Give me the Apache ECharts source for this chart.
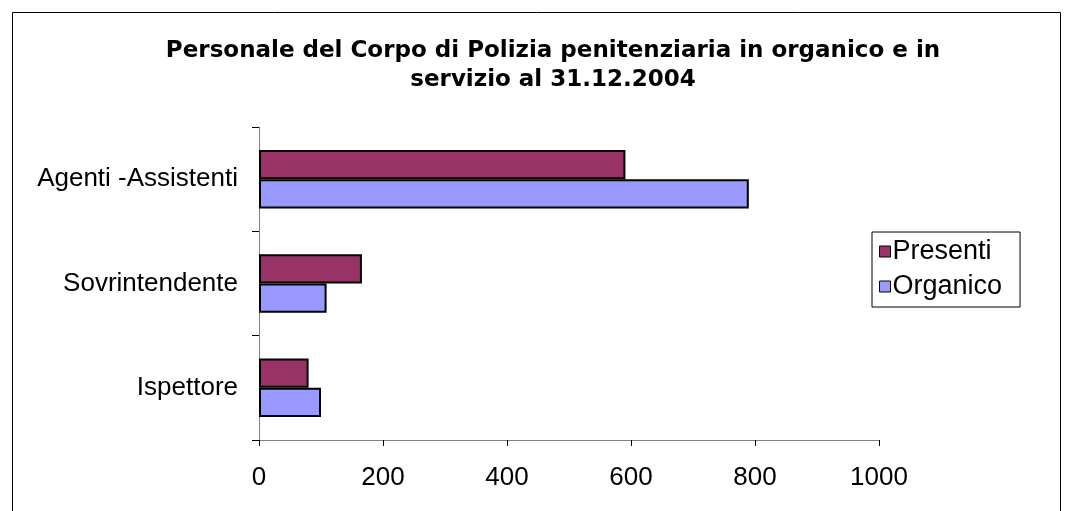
<!DOCTYPE html>
<html><head><meta charset="utf-8">
<script src="https://cdn.jsdelivr.net/npm/echarts@6/dist/echarts.min.js"></script>
<style>html,body{margin:0;padding:0;background:#fff}#c{width:1072px;height:511px}</style>
</head><body><div id="c"></div>
<script>
const categories = ['Ispettore', 'Sovrintendente', 'Agenti -Assistenti'];
const presenti = [80, 166, 591];
const organico = [100, 109, 790];
const xTicks = [0, 200, 400, 600, 800, 1000];
const titleText = 'Personale del Corpo di Polizia penitenziaria in organico e in\nservizio al 31.12.2004';

const chart = echarts.init(document.getElementById('c'), null, {renderer: 'canvas'});
const font = 'Liberation Sans, Arial, sans-serif';
chart.setOption({
  animation: false,
  backgroundColor: '#fff',
  graphic: [{
    type: 'rect', shape: {x: 12.5, y: 12.5, width: 1048, height: 510},
    style: {fill: 'none', stroke: '#000', lineWidth: 1}, silent: true
  }],
  title: {
    text: titleText, left: 548, textAlign: 'center', top: 32,
    textStyle: {fontFamily: 'DejaVu Sans, sans-serif', fontSize: 23, fontWeight: 'bold', color: '#000', lineHeight: 29}
  },
  legend: {
    orient: 'vertical', left: 872, top: 232, width: 150,
    padding: [6, 18, 7, 7], itemGap: 8,
    borderColor: '#000', borderWidth: 1,
    icon: 'rect', itemWidth: 11, itemHeight: 11,
    itemStyle: {borderColor: '#000', borderWidth: 1},
    textStyle: {fontFamily: font, fontSize: 27, color: '#000', padding: [0, 0, 0, -3]},
    data: ['Presenti', 'Organico']
  },
  grid: {left: 259, top: 127, width: 620, height: 313, containLabel: false},
  xAxis: {
    type: 'value', min: 0, max: 1000, interval: 200,
    axisLine: {show: true, lineStyle: {color: '#808080', width: 1}},
    axisTick: {show: true, length: 6, lineStyle: {color: '#000'}},
    splitLine: {show: false},
    axisLabel: {fontFamily: font, fontSize: 26, color: '#000', margin: 25,
      formatter: v => xTicks.includes(v) ? String(v) : ''}
  },
  yAxis: {
    type: 'category', data: categories,
    axisLine: {show: true, lineStyle: {color: '#808080', width: 1}},
    axisTick: {show: true, length: 7, lineStyle: {color: '#000'}},
    axisLabel: {fontFamily: font, fontSize: 26, color: '#000', margin: 21}
  },
  series: [
    {name: 'Presenti', type: 'bar', data: presenti, barGap: '0%', barCategoryGap: '44%',
      itemStyle: {color: '#993366', borderColor: '#000', borderWidth: 2}},
    {name: 'Organico', type: 'bar', data: organico, barGap: '0%', barCategoryGap: '44%',
      itemStyle: {color: '#9999FF', borderColor: '#000', borderWidth: 2}}
  ]
});
</script></body></html>
